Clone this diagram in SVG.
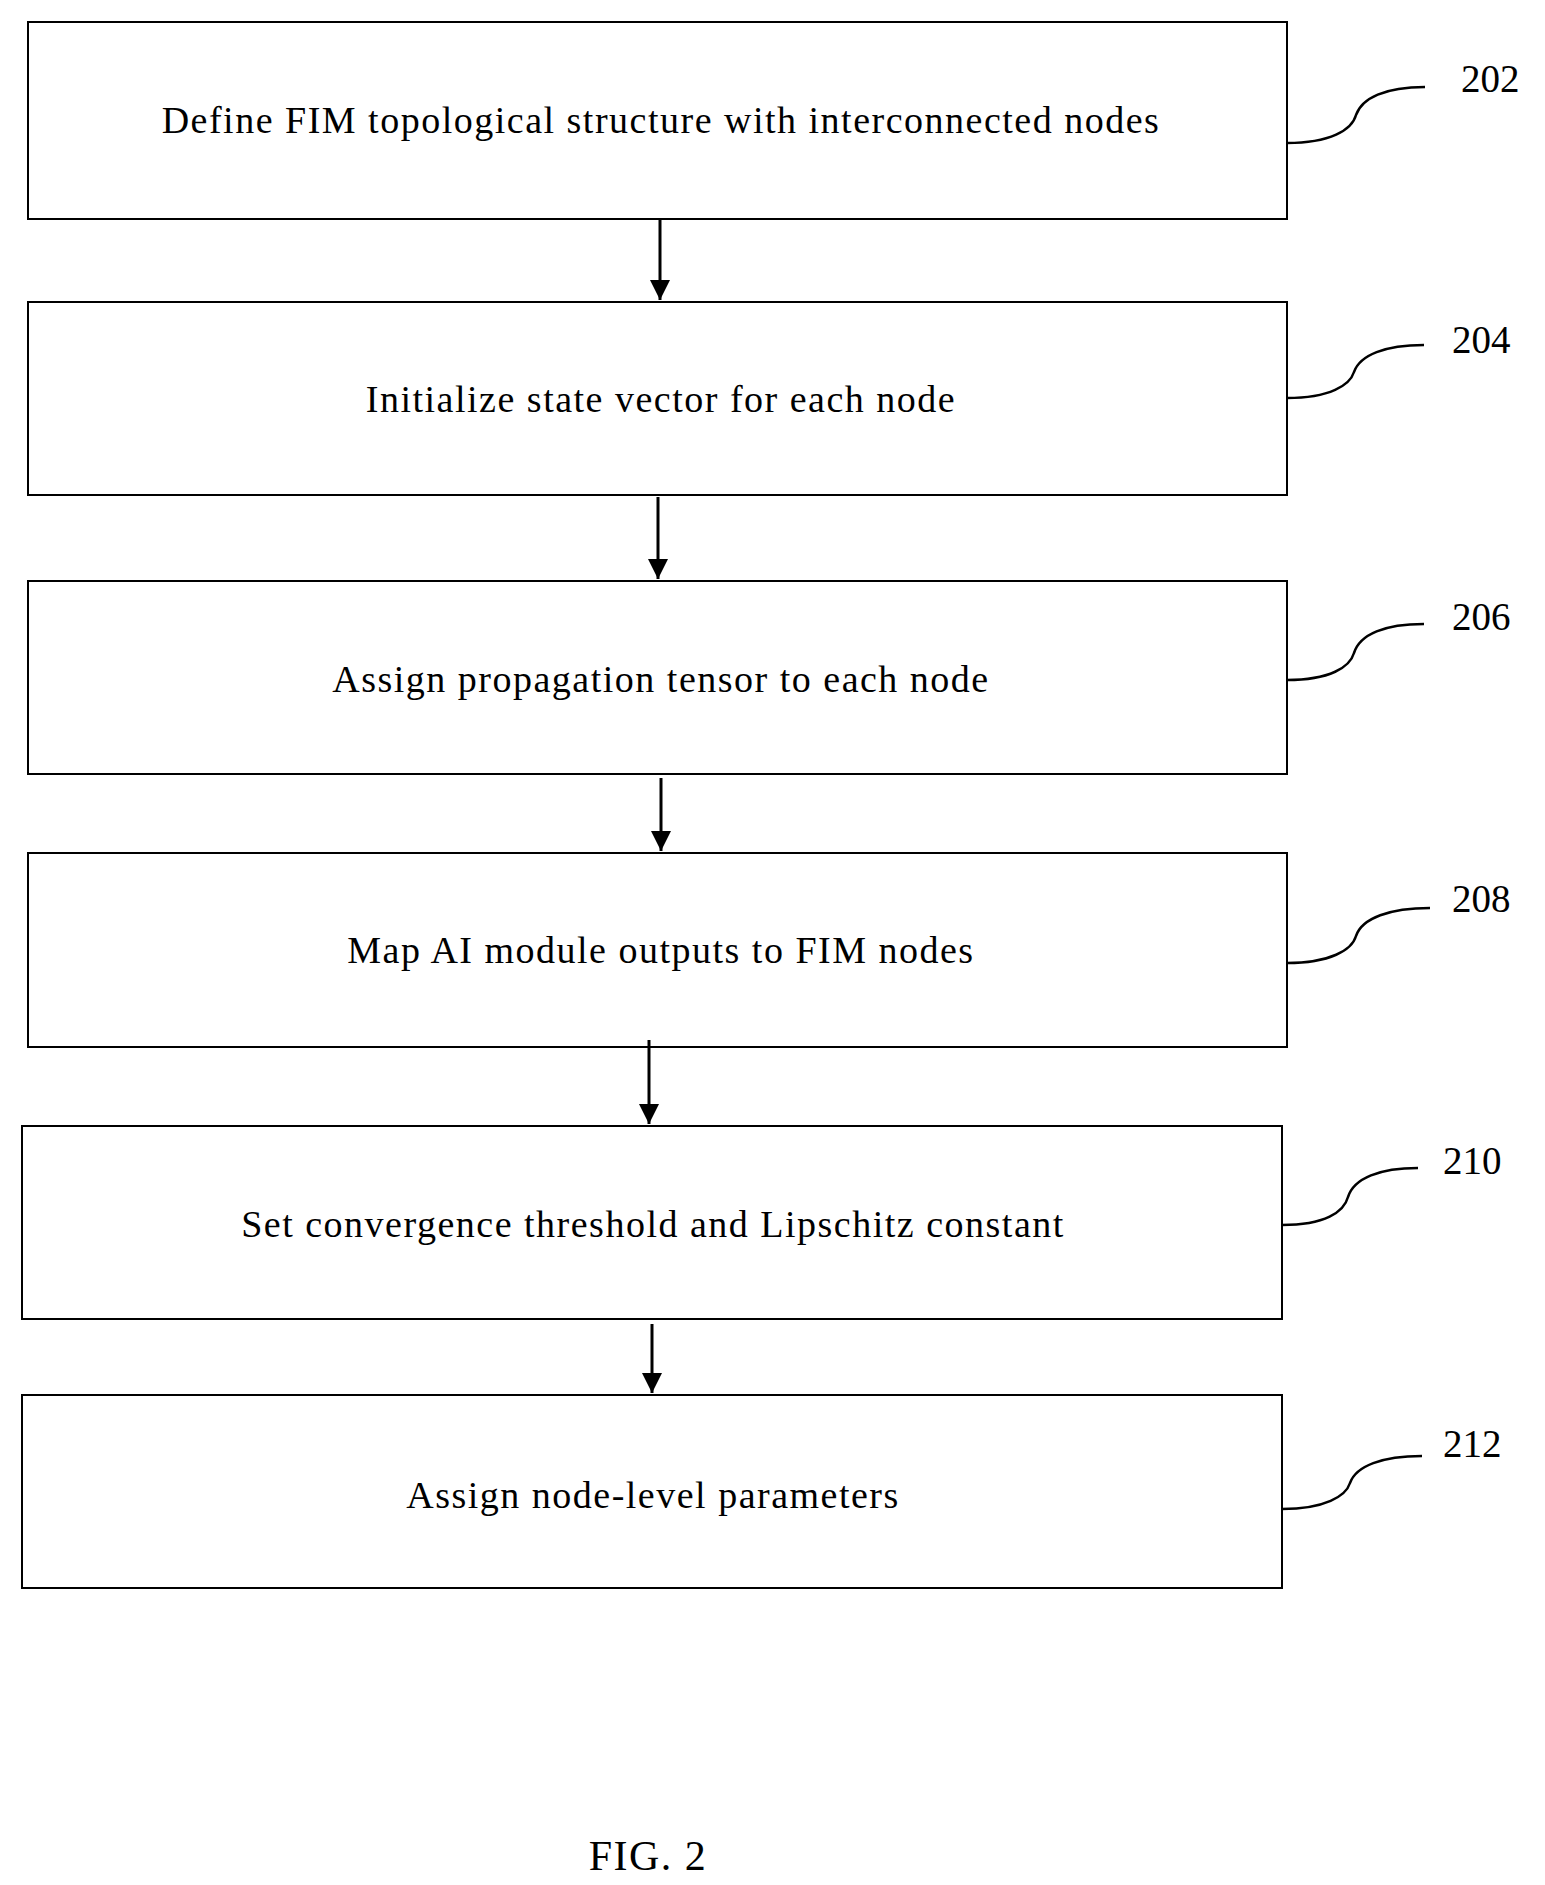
<svg xmlns="http://www.w3.org/2000/svg" width="1545" height="1885" viewBox="0 0 1545 1885">
<style>
.b{fill:#fff;stroke:#000;stroke-width:2}
.t{font-family:"Liberation Serif",serif;font-size:38px;letter-spacing:1.5px;text-anchor:middle;fill:#000}
.l{font-family:"Liberation Serif",serif;font-size:39px;fill:#000}
.c{fill:none;stroke:#000;stroke-width:2.5}
</style>
<defs>
<marker id="ah2" viewBox="0 0 10 10" refX="10" refY="5" markerWidth="20" markerHeight="20" orient="auto" markerUnits="userSpaceOnUse"><path d="M0,0 L10,5 L0,10 Z"/></marker></defs>
<rect width="1545" height="1885" fill="#fff"/>
<g id="n202"><rect class="b" x="28" y="22" width="1259" height="197"/><text class="t" x="661" y="133">Define FIM topological structure with interconnected nodes</text><text class="l" x="1461" y="92">202</text></g>
<g id="n204"><rect class="b" x="28" y="302" width="1259" height="193"/><text class="t" x="661" y="412">Initialize state vector for each node</text><text class="l" x="1452" y="353">204</text></g>
<g id="n206"><rect class="b" x="28" y="581" width="1259" height="193"/><text class="t" x="661" y="692">Assign propagation tensor to each node</text><text class="l" x="1452" y="630">206</text></g>
<g id="n208"><rect class="b" x="28" y="853" width="1259" height="194"/><text class="t" x="661" y="963">Map AI module outputs to FIM nodes</text><text class="l" x="1452" y="912">208</text></g>
<g id="n210"><rect class="b" x="22" y="1126" width="1260" height="193"/><text class="t" x="653" y="1237">Set convergence threshold and Lipschitz constant</text><text class="l" x="1443" y="1174">210</text></g>
<g id="n212"><rect class="b" x="22" y="1395" width="1260" height="193"/><text class="t" x="653" y="1508">Assign node-level parameters</text><text class="l" x="1443" y="1457">212</text></g>
<g id="connectors">
<line x1="660" y1="220" x2="660" y2="300" stroke="#000" stroke-width="3" marker-end="url(#ah2)"/>
<line x1="658" y1="497" x2="658" y2="579" stroke="#000" stroke-width="3" marker-end="url(#ah2)"/>
<line x1="661" y1="778" x2="661" y2="851" stroke="#000" stroke-width="3" marker-end="url(#ah2)"/>
<line x1="649" y1="1040" x2="649" y2="1124" stroke="#000" stroke-width="3" marker-end="url(#ah2)"/>
<line x1="652" y1="1324" x2="652" y2="1393" stroke="#000" stroke-width="3" marker-end="url(#ah2)"/>
<path class="c" d="M1287,143 C1330,143 1352,130 1356,115 C1362,98 1385,87 1425,87"/>
<path class="c" d="M1287,398 C1330,398 1350,385 1354,372 C1360,355 1385,345 1424,345"/>
<path class="c" d="M1287,680 C1330,680 1350,667 1354,653 C1360,634 1385,624 1424,624"/>
<path class="c" d="M1287,963 C1330,963 1352,950 1356,936 C1362,918 1390,908 1430,908"/>
<path class="c" d="M1282,1225 C1325,1225 1344,1212 1348,1197 C1354,1178 1380,1168 1418,1168"/>
<path class="c" d="M1282,1509 C1325,1509 1346,1496 1350,1483 C1356,1466 1382,1456 1422,1456"/>
</g>
<text class="t" x="648" y="1870" style="font-size:42px">FIG. 2</text>
</svg>
